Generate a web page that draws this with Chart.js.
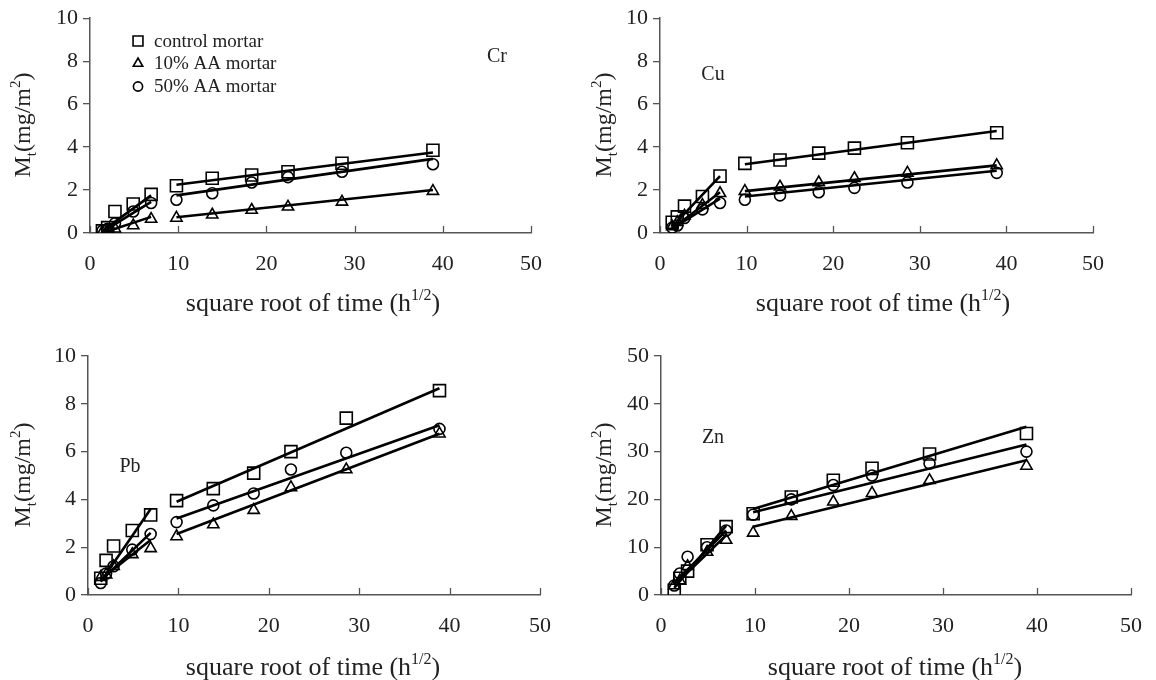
<!DOCTYPE html>
<html>
<head>
<meta charset="utf-8">
<script src="https://cdn.jsdelivr.net/npm/chart.js@4.4.1/dist/chart.umd.min.js"></script>
<style>
  html, body { margin: 0; padding: 0; background: #fff; }
  #wrap { position: relative; width: 1156px; height: 680px; overflow: hidden; }
  #wrap canvas { position: absolute; }
</style>
</head>
<body>
<div id="wrap">
  <canvas id="cr" width="578" height="320" style="left:0;top:0"></canvas>
  <canvas id="cu" width="578" height="320" style="left:578px;top:0"></canvas>
  <canvas id="pb" width="578" height="360" style="left:0;top:320px"></canvas>
  <canvas id="zn" width="578" height="360" style="left:578px;top:320px"></canvas>
</div>
<script>
// square root of time (h^1/2) for each sample
const sqrtTime = [1.41, 2.00, 2.83, 4.90, 6.93, 9.80, 13.86, 18.33, 22.45, 28.57, 38.88];
// x where the fitted lines start / end (early segment, late segment)
const fitX = [1.41, 6.93, 9.80, 38.88];

// Cr
const crControl = [0.10, 0.25, 1.00, 1.35, 1.80, 2.20, 2.55, 2.70, 2.85, 3.25, 3.85];
const crAA10    = [0.05, 0.10, 0.20, 0.35, 0.65, 0.70, 0.85, 1.07, 1.22, 1.45, 1.95];
const crAA50    = [0.10, 0.20, 0.45, 1.00, 1.40, 1.55, 1.85, 2.35, 2.60, 2.85, 3.20];
const crLineControl = [0.10, 1.75, 2.25, 3.75];
const crLineAA10    = [0.00, 0.75, 0.73, 2.00];
const crLineAA50    = [0.05, 1.45, 1.75, 3.45];

// Cu
const cuControl = [0.50, 0.75, 1.25, 1.70, 2.65, 3.24, 3.40, 3.72, 3.95, 4.20, 4.67];
const cuAA10    = [0.30, 0.50, 0.80, 1.30, 1.85, 1.95, 2.15, 2.35, 2.55, 2.80, 3.15];
const cuAA50    = [0.25, 0.35, 0.70, 1.10, 1.40, 1.55, 1.75, 1.90, 2.10, 2.35, 2.80];
const cuLineControl = [0.30, 2.65, 3.20, 4.75];
const cuLineAA10    = [0.20, 1.90, 1.95, 3.15];
const cuLineAA50    = [0.20, 1.60, 1.70, 2.90];

// Pb
const pbControl = [0.70, 1.45, 2.05, 2.70, 3.35, 3.95, 4.45, 5.10, 6.00, 7.40, 8.55];
const pbAA10    = [0.75, 0.85, 1.20, 1.70, 1.95, 2.45, 2.95, 3.55, 4.50, 5.25, 6.75];
const pbAA50    = [0.50, 0.90, 1.20, 1.90, 2.55, 3.05, 3.75, 4.25, 5.25, 5.95, 6.95];
const pbLineControl = [0.55, 3.60, 3.90, 8.65];
const pbLineAA10    = [0.65, 2.30, 2.55, 6.75];
const pbLineAA50    = [0.60, 2.60, 3.20, 7.10];

// Zn
const znControl = [1.0, 3.5, 5.0, 10.5, 14.3, 17.0, 20.5, 24.0, 26.5, 29.5, 33.8];
const znAA10    = [2.0, 3.0, 6.0,  9.0, 11.5, 13.0, 16.5, 19.5, 21.3, 24.0, 27.0];
const znAA50    = [2.0, 4.5, 8.0, 10.0, 13.5, 16.8, 20.0, 23.0, 25.0, 27.5, 30.0];
const znLineControl = [1.5, 14.5, 18.0, 35.2];
const znLineAA10    = [2.0, 12.5, 14.3, 28.2];
const znLineAA50    = [2.5, 13.5, 17.3, 31.5];

const seriesNames = ['control mortar', '10% AA mortar', '50% AA mortar'];

const SERIF = '"Liberation Serif", "DejaVu Serif", serif';
const INK = '#222';
const AXIS = '#555';

// layout of each panel, canvas-local pixels
const PANELS = {
  cr: { yw: 90, top: 18, right: 47, xh: 87, ymax: 10, ystep: 2, label: 'Cr', lx: 497, ly: 57,
        ytx: 22, yty: 125, xtx: 313, xty: 303, legend: true },
  cu: { yw: 82, top: 18, right: 63, xh: 87, ymax: 10, ystep: 2, label: 'Cu', lx: 135, ly: 75,
        ytx: 25, yty: 125, xtx: 305, xty: 303 },
  pb: { yw: 88, top: 36, right: 38, xh: 85, ymax: 10, ystep: 2, label: 'Pb', lx: 130, ly: 147,
        ytx: 22, yty: 155, xtx: 313, xty: 347 },
  zn: { yw: 83, top: 36, right: 25, xh: 85, ymax: 50, ystep: 10, label: 'Zn', lx: 135, ly: 118,
        ytx: 25, yty: 155, xtx: 317, xty: 347 },
};

const MARKERS = [
  { style: 'rect', radius: 8.5 },
  { style: 'triangle', radius: 6.5 },
  { style: 'circle', radius: 5.5 },
];

function points(ys) {
  return sqrtTime.map((x, i) => ({ x, y: ys[i] }));
}

function fitLine(ys) {
  // two straight segments, broken between the early and late samples
  return [
    { x: fitX[0], y: ys[0] }, { x: fitX[1], y: ys[1] },
    { x: 8.4, y: null },
    { x: fitX[2], y: ys[2] }, { x: fitX[3], y: ys[3] },
  ];
}

// draws text pieces with sub/superscripts, centred on 0,0 of current transform
function richText(ctx, parts) {
  let total = 0;
  parts.forEach(p => {
    ctx.font = p.size + 'px ' + SERIF;
    p.w = ctx.measureText(p.t).width;
    total += p.w;
  });
  let x = -total / 2;
  ctx.textBaseline = 'alphabetic';
  ctx.textAlign = 'left';
  parts.forEach(p => {
    ctx.font = p.size + 'px ' + SERIF;
    ctx.fillText(p.t, x, 8 + (p.dy || 0));
    x += p.w;
  });
}

function drawMarker(ctx, style, x, y, r) {
  ctx.save();
  ctx.fillStyle = 'rgba(0,0,0,0)';
  ctx.strokeStyle = '#000';
  ctx.lineWidth = 1.6;
  Chart.helpers.drawPoint(ctx, { pointStyle: style, radius: r, rotation: 0, borderWidth: 1.6 }, x, y);
  ctx.restore();
}

const decoPlugin = {
  id: 'deco',
  afterDraw(chart) {
    const p = PANELS[chart.canvas.id];
    const ctx = chart.ctx;
    const xs = chart.scales.x;
    ctx.save();

    // x ticks point inwards
    ctx.strokeStyle = AXIS;
    ctx.lineWidth = 1.3;
    xs.ticks.forEach(t => {
      const px = Math.round(xs.getPixelForValue(t.value)) + 0.5;
      ctx.beginPath();
      ctx.moveTo(px, xs.top);
      ctx.lineTo(px, xs.top - 7);
      ctx.stroke();
    });

    ctx.fillStyle = INK;

    // y title
    ctx.save();
    ctx.translate(p.ytx, p.yty);
    ctx.rotate(-Math.PI / 2);
    richText(ctx, [
      { t: 'M', size: 24 },
      { t: 't', size: 15, dy: 6 },
      { t: '(mg/m', size: 24 },
      { t: '2', size: 15, dy: -10 },
      { t: ')', size: 24 },
    ]);
    ctx.restore();

    // x title
    ctx.save();
    ctx.translate(p.xtx, p.xty);
    richText(ctx, [
      { t: 'square root of time (h', size: 26 },
      { t: '1/2', size: 16, dy: -11 },
      { t: ')', size: 26 },
    ]);
    ctx.restore();

    // element label
    ctx.font = '20px ' + SERIF;
    ctx.textAlign = 'center';
    ctx.textBaseline = 'middle';
    ctx.fillText(p.label, p.lx, p.ly);

    if (p.legend) {
      const rows = [41, 63.5, 86.5];
      const rad = [7, 5.5, 4.6];
      seriesNames.forEach((name, i) => {
        drawMarker(ctx, MARKERS[i].style, 138, rows[i], rad[i]);
        ctx.fillStyle = INK;
        ctx.font = '19px ' + SERIF;
        ctx.textAlign = 'left';
        ctx.textBaseline = 'middle';
        ctx.fillText(name, 154, rows[i] + 1);
      });
    }
    ctx.restore();
  }
};

function makePanel(id, marks, lines) {
  const p = PANELS[id];
  const datasets = [];
  marks.forEach((ys, i) => {
    datasets.push({
      label: seriesNames[i],
      data: points(ys),
      showLine: false,
      pointStyle: MARKERS[i].style,
      pointRadius: MARKERS[i].radius,
      pointBorderColor: '#000',
      pointBackgroundColor: 'rgba(0,0,0,0)',
      pointBorderWidth: 1.6,
    });
  });
  lines.forEach((ys, i) => {
    datasets.push({
      label: seriesNames[i] + ' fit',
      data: fitLine(ys),
      showLine: true,
      spanGaps: false,
      borderColor: '#000',
      borderWidth: 2.6,
      pointRadius: 0,
      fill: false,
    });
  });

  const tickFont = { family: SERIF, size: 22 };

  return new Chart(document.getElementById(id), {
    type: 'scatter',
    data: { datasets },
    options: {
      responsive: false,
      animation: false,
      events: [],
      layout: { padding: { top: p.top, right: p.right, left: 0, bottom: 0 } },
      plugins: { legend: { display: false }, tooltip: { enabled: false } },
      scales: {
        x: {
          type: 'linear', min: 0, max: 50,
          ticks: { stepSize: 10, font: tickFont, color: INK, padding: 10, maxRotation: 0 },
          grid: { display: false },
          border: { display: true, color: AXIS, width: 1.5 },
          afterFit: s => { s.height = p.xh; },
        },
        y: {
          type: 'linear', min: 0, max: p.ymax,
          ticks: { stepSize: p.ystep, font: tickFont, color: INK, padding: 5 },
          grid: { drawOnChartArea: false, drawTicks: true, tickLength: 7, color: AXIS, lineWidth: 1.3 },
          border: { display: true, color: AXIS, width: 1.5 },
          afterFit: s => { s.width = p.yw; },
        }
      }
    },
    plugins: [decoPlugin]
  });
}

makePanel('cr', [crControl, crAA10, crAA50], [crLineControl, crLineAA10, crLineAA50]);
makePanel('cu', [cuControl, cuAA10, cuAA50], [cuLineControl, cuLineAA10, cuLineAA50]);
makePanel('pb', [pbControl, pbAA10, pbAA50], [pbLineControl, pbLineAA10, pbLineAA50]);
makePanel('zn', [znControl, znAA10, znAA50], [znLineControl, znLineAA10, znLineAA50]);
</script>
</body>
</html>
